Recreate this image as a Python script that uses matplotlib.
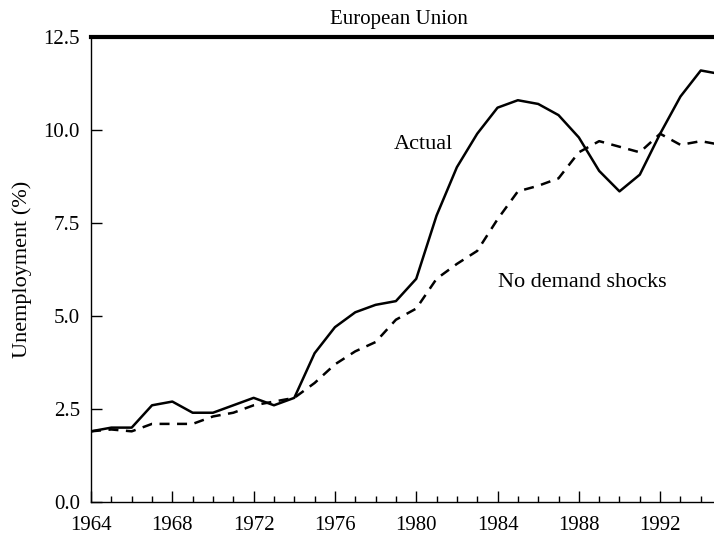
import matplotlib
matplotlib.use("Agg")
import matplotlib.pyplot as plt
from matplotlib.ticker import MultipleLocator

plt.rcParams['font.family'] = ['Liberation Serif', 'DejaVu Serif']

years = list(range(1964, 1996))
actual = [1.9, 2.0, 2.0, 2.6, 2.7, 2.4, 2.4, 2.6, 2.8, 2.6, 2.8, 4.0, 4.7, 5.1,
          5.3, 5.4, 6.0, 7.7, 9.0, 9.9, 10.6, 10.8, 10.7, 10.4, 9.8, 8.9, 8.35,
          8.8, 9.9, 10.9, 11.6, 11.5]
no_demand = [1.9, 1.95, 1.9, 2.1, 2.1, 2.1, 2.3, 2.4, 2.6, 2.7, 2.8, 3.2, 3.7,
             4.05, 4.3, 4.9, 5.2, 6.0, 6.4, 6.75, 7.6, 8.35, 8.5, 8.7, 9.4, 9.7,
             9.55, 9.4, 9.9, 9.6, 9.7, 9.6]
xticks = [1964, 1968, 1972, 1976, 1980, 1984, 1988, 1992]
yticks = [0.0, 2.5, 5.0, 7.5, 10.0, 12.5]

fig = plt.figure(figsize=(7.14, 5.36), dpi=100)
ax = fig.add_axes([0.1275, 0.0634, 0.8725, 0.8676])

ax.plot(years, actual, color='black', lw=1.8)
ax.plot(years, no_demand, color='black', lw=1.8, ls=(0, (4, 3)))

ax.set_xlim(1964, 1994.65)
ax.set_ylim(0, 12.5)
ax.set_xticks(xticks)
ax.xaxis.set_minor_locator(MultipleLocator(1))
ax.set_yticks(yticks)
ax.set_yticklabels([f"{v:.1f}" for v in yticks])

ax.tick_params(axis='both', which='major', direction='in', length=8, width=1,
               labelsize=15)
ax.tick_params(axis='x', which='major', pad=10)
ax.tick_params(axis='x', which='minor', direction='in', length=4, width=1)
ax.tick_params(axis='y', which='major', pad=8)

ax.spines['right'].set_visible(False)
ax.spines['top'].set_linewidth(3)
ax.spines['left'].set_linewidth(1)
ax.spines['bottom'].set_linewidth(1)

ax.set_ylabel('Unemployment (%)', fontsize=16, labelpad=8)
ax.set_title('European Union', fontsize=15, pad=9, x=0.494)

ax.text(1981.8, 9.6, 'Actual', fontsize=16, ha='right', va='center')
ax.text(1984, 5.9, 'No demand shocks', fontsize=16, ha='left', va='center')

fig.savefig('out.png', dpi=100)
